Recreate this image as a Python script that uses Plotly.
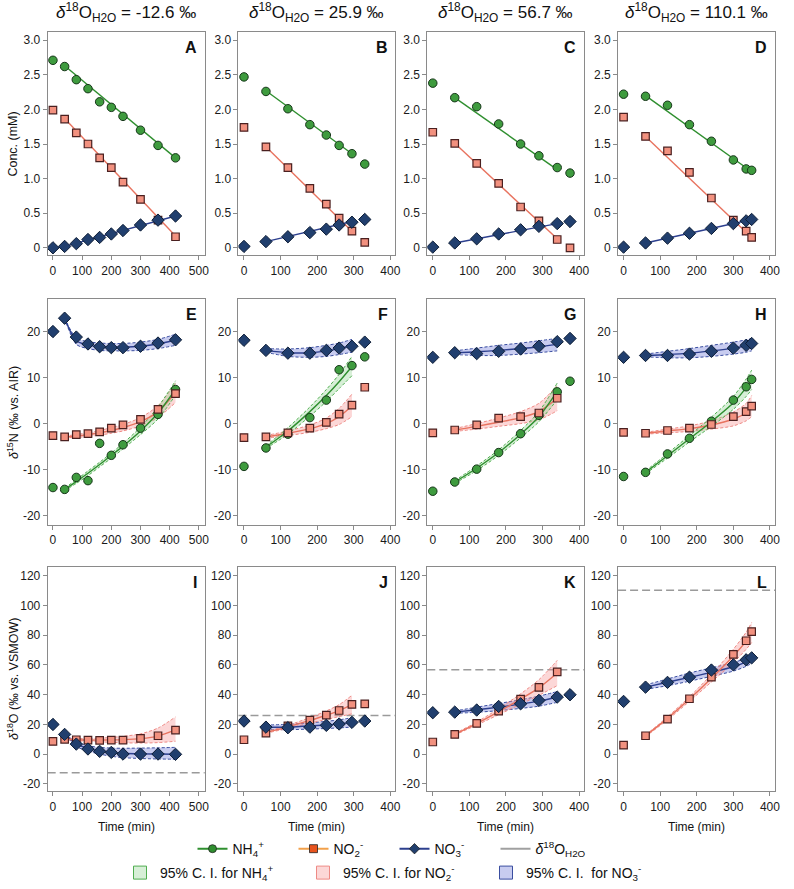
import plotly.graph_objects as go
from plotly.subplots import make_subplots

# ---------------- data ----------------
h2o_d18o = [-12.6, 25.9, 56.7, 110.1]
h2o_labels = ["-12.6", "25.9", "56.7", "110.1"]
panel_letters = ["A", "B", "C", "D", "E", "F", "G", "H", "I", "J", "K", "L"]

time_1 = [0, 40, 80, 120, 160, 200, 240, 300, 360, 420]
time_2 = [0, 60, 120, 180, 225, 260, 295, 330]
time_3 = [0, 60, 120, 180, 240, 290, 340, 375]
time_4 = [0, 60, 120, 180, 240, 300, 335, 350]
times = [time_1, time_2, time_3, time_4]
# index range (inclusive) of the samples used by the fits
fit_range = [(1, 9), (1, 6), (1, 6), (1, 7)]

# concentrations (mM)
conc_nh4 = [[2.71, 2.62, 2.43, 2.30, 2.11, 2.03, 1.90, 1.70, 1.48, 1.30],
            [2.47, 2.26, 2.01, 1.78, 1.63, 1.48, 1.36, 1.21],
            [2.38, 2.17, 2.04, 1.79, 1.50, 1.33, 1.16, 1.08],
            [2.22, 2.19, 2.06, 1.78, 1.54, 1.27, 1.14, 1.12]]
conc_no2 = [[1.99, 1.86, 1.66, 1.50, 1.30, 1.16, 0.95, 0.70, 0.40, 0.16],
            [1.74, 1.46, 1.16, 0.86, 0.63, 0.43, 0.24, 0.08],
            [1.67, 1.51, 1.22, 0.93, 0.59, 0.39, 0.12, 0.00],
            [1.89, 1.61, 1.40, 1.09, 0.72, 0.40, 0.24, 0.15]]
conc_no3 = [[0.00, 0.02, 0.06, 0.12, 0.15, 0.20, 0.25, 0.33, 0.40, 0.46],
            [0.02, 0.09, 0.16, 0.22, 0.27, 0.33, 0.37, 0.41],
            [0.01, 0.07, 0.13, 0.20, 0.26, 0.31, 0.35, 0.38],
            [0.01, 0.07, 0.14, 0.21, 0.28, 0.35, 0.39, 0.41]]
# linear fit values at first / last fitted time
conc_fit_nh4 = [[2.63, 1.30], [2.27, 1.36], [2.17, 1.13], [2.20, 1.10]]
conc_fit_no2 = [[1.87, 0.17], [1.46, 0.24], [1.51, 0.13], [1.61, 0.15]]
conc_fit_no3 = [[0.02, 0.46], [0.09, 0.38], [0.07, 0.35], [0.07, 0.41]]

# d15N (per mil vs AIR)
d15n_nh4 = [[-13.9, -14.3, -11.7, -12.4, -4.3, -6.9, -4.6, -1.0, 2.0, 7.4],
            [-9.3, -5.3, -2.3, 1.3, 5.1, 11.7, 12.6, 14.5],
            [-14.7, -12.7, -9.9, -6.3, -2.2, 1.8, 6.9, 9.2],
            [-11.5, -10.6, -6.6, -3.2, 0.5, 5.1, 8.0, 9.6]]
d15n_no2 = [[-2.6, -2.9, -2.4, -2.2, -1.8, -1.0, -0.3, 0.9, 3.1, 6.5],
            [-3.05, -2.9, -2.0, -1.0, 0.25, 2.05, 4.0, 7.9],
            [-2.0, -1.4, -0.3, 1.2, 1.5, 2.3, 5.5, None],
            [-1.9, -2.1, -1.5, -1.0, -0.2, 1.5, 2.6, 3.8]]
d15n_no3 = [[20.0, 22.9, 18.8, 17.3, 16.7, 16.5, 16.5, 16.8, 17.5, 18.2],
            [18.1, 15.9, 15.3, 15.3, 15.9, 16.4, 16.8, 17.7],
            [14.4, 15.4, 15.2, 15.7, 16.2, 16.8, 17.8, 18.5],
            [14.4, 14.8, 14.8, 15.1, 15.7, 16.4, 17.0, 17.4]]
d15n_fit_nh4 = [[-14.3, -12.6, -10.8, -8.9, -6.9, -4.9, -1.6, 2.3, 7.4],
                [-5.1, -1.6, 2.6, 6.1, 9.1, 12.4],
                [-12.7, -9.7, -6.3, -2.3, 1.5, 7.0],
                [-10.6, -7.0, -3.3, 0.4, 4.5, 7.8, 9.5]]
d15n_up_nh4 = [[-14.0, -12.2, -10.3, -8.4, -6.4, -4.3, -0.8, 3.6, 9.3],
               [-4.8, -0.9, 3.6, 7.4, 10.7, 14.6],
               [-12.4, -9.2, -5.7, -1.5, 2.6, 8.8],
               [-10.3, -6.5, -2.6, 1.4, 5.9, 9.7, 11.6]]
d15n_lo_nh4 = [[-14.6, -13.0, -11.3, -9.4, -7.5, -5.5, -2.4, 1.0, 6.2],
               [-5.4, -2.3, 1.6, 4.8, 7.6, 10.4],
               [-13.0, -10.2, -6.9, -3.1, 0.4, 5.2],
               [-10.9, -7.5, -4.0, -0.6, 3.1, 5.9, 7.4]]
d15n_fit_no2 = [[-2.9, -2.7, -2.4, -2.0, -1.5, -0.9, 0.4, 2.6, 6.8],
                [-2.9, -2.1, -1.1, 0.0, 1.5, 3.8],
                [-1.4, -0.6, 0.3, 1.3, 2.6, 5.5],
                [-2.1, -1.6, -1.1, -0.3, 1.0, 2.3, 3.5]]
d15n_up_no2 = [[-2.7, -2.4, -2.0, -1.5, -0.9, -0.2, 1.3, 3.9, 8.8],
               [-2.6, -1.6, -0.3, 1.2, 3.3, 6.4],
               [-1.1, 0.0, 1.2, 2.6, 4.4, 8.3],
               [-1.9, -1.2, -0.5, 0.6, 2.5, 4.4, 6.1]]
d15n_lo_no2 = [[-3.1, -3.0, -2.8, -2.5, -2.1, -1.6, -0.5, 1.3, 4.6],
               [-3.2, -2.6, -1.9, -1.1, -0.2, 1.5],
               [-1.7, -1.2, -0.6, 0.0, 0.8, 2.8],
               [-2.3, -2.0, -1.7, -1.2, -0.5, 0.6, 1.5]]
d15n_fit_no3 = [[22.9, 18.0, 17.1, 16.7, 16.6, 16.6, 16.8, 17.3, 18.1],
                [15.9, 15.4, 15.4, 15.8, 16.3, 16.9],
                [15.4, 15.6, 15.9, 16.3, 16.7, 17.2],
                [14.8, 15.0, 15.3, 15.8, 16.4, 16.9, 17.2]]
d15n_up_no3 = [[22.9, 18.6, 17.8, 17.5, 17.4, 17.4, 17.7, 18.3, 19.4],
               [16.3, 16.2, 16.5, 17.0, 17.5, 18.3],
               [15.8, 16.4, 17.0, 17.5, 18.0, 18.5],
               [15.1, 15.7, 16.3, 17.0, 17.7, 18.2, 18.5]]
d15n_lo_no3 = [[22.9, 17.2, 16.3, 15.9, 15.8, 15.8, 15.9, 16.3, 17.0],
               [15.5, 14.6, 14.4, 14.6, 15.0, 15.5],
               [15.0, 14.8, 14.8, 15.1, 15.4, 15.8],
               [14.5, 14.3, 14.3, 14.6, 15.1, 15.5, 15.8]]

# d18O (per mil vs VSMOW)
d18o_no2 = [[8.5, 9.9, 9.6, 9.4, 9.2, 9.4, 9.4, 10.5, 12.3, 16.1],
            [9.6, 14.1, 19.0, 22.8, 26.2, 29.3, 33.4, 33.8],
            [8.1, 13.2, 20.6, 28.9, 37.0, 44.8, 55.3, None],
            [6.0, 12.3, 23.5, 37.2, 51.7, 67.0, 76.2, 82.4]]
d18o_no3 = [[19.9, 13.2, 6.7, 3.4, 1.8, 1.1, 0.0, 0.0, 0.0, -0.2],
            [22.2, 18.1, 17.7, 18.1, 19.3, 20.2, 21.3, 22.2],
            [27.8, 28.2, 29.6, 32.0, 33.8, 36.1, 38.3, 39.9],
            [35.4, 45.0, 48.2, 51.7, 56.5, 60.0, 63.4, 64.7]]
d18o_fit_no2 = [[9.9, 9.6, 9.4, 9.4, 9.5, 9.7, 10.4, 12.1, 16.2],
                [14.5, 18.3, 22.6, 26.1, 29.2, 33.2],
                [13.3, 20.5, 28.5, 37.0, 44.5, 54.5],
                [12.3, 24.0, 37.0, 51.0, 66.0, 76.0, 81.5]]
d18o_up_no2 = [[10.2, 10.3, 10.4, 10.7, 11.2, 11.9, 13.6, 17.5, 25.0],
               [15.0, 19.3, 24.5, 29.0, 33.2, 39.5],
               [13.8, 21.5, 30.5, 40.5, 50.0, 63.0],
               [12.8, 25.0, 38.5, 53.5, 70.5, 82.0, 88.5]]
d18o_lo_no2 = [[9.6, 8.9, 8.5, 8.2, 7.9, 7.6, 7.4, 7.7, 8.6],
               [14.0, 17.3, 20.8, 23.2, 25.2, 27.0],
               [12.8, 19.5, 26.5, 33.5, 39.5, 46.0],
               [11.8, 23.0, 35.5, 48.5, 61.5, 70.5, 75.0]]
d18o_fit_no3 = [[13.2, 6.8, 3.8, 2.1, 1.1, 0.5, 0.1, 0.0, -0.1],
                [18.0, 18.2, 18.9, 19.6, 20.3, 21.3],
                [28.2, 29.8, 31.6, 33.6, 35.6, 38.4],
                [45.0, 48.3, 51.6, 55.0, 58.7, 62.0, 64.0]]
d18o_up_no3 = [[13.2, 8.5, 5.6, 4.5, 4.0, 3.9, 4.0, 4.2, 4.5],
               [19.5, 20.0, 21.0, 22.0, 23.0, 24.5],
               [29.0, 31.5, 34.0, 36.5, 39.0, 42.0],
               [46.5, 50.5, 54.5, 58.0, 61.5, 64.5, 66.5]]
d18o_lo_no3 = [[13.2, 5.2, 1.9, 0.0, -1.5, -2.4, -3.0, -3.3, -3.5],
               [16.5, 16.4, 16.8, 17.2, 17.6, 18.1],
               [27.4, 28.1, 29.2, 30.7, 32.2, 34.8],
               [43.5, 46.0, 49.0, 52.3, 55.8, 59.0, 61.0]]

# ---------------- styles ----------------
FONT = "Liberation Sans, Arial, sans-serif"
C_NH4_LINE, C_NH4_FILL, C_NH4_EDGE = "#2f8f2f", "#3e9b3e", "#17361a"
C_NO2_LINE, C_NO2_FILL, C_NO2_EDGE = "#e8735f", "#f2917f", "#4a2020"
C_NO3_LINE, C_NO3_FILL, C_NO3_EDGE = "#2c3f8e", "#213f6e", "#0d1d36"
BAND = {"nh4": ("#4fae4f", "rgba(140,210,140,0.35)"),
        "no2": ("#ee8a85", "rgba(245,140,140,0.35)"),
        "no3": ("#3a4ea0", "rgba(110,120,215,0.38)")}
MK = {"nh4": dict(symbol="circle", size=8.5, color=C_NH4_FILL, line=dict(color=C_NH4_EDGE, width=1)),
      "no2": dict(symbol="square", size=7.5, color=C_NO2_FILL, line=dict(color=C_NO2_EDGE, width=1.2)),
      "no3": dict(symbol="diamond", size=9.5, color=C_NO3_FILL, line=dict(color=C_NO3_EDGE, width=1))}
LINE = {"nh4": C_NH4_LINE, "no2": C_NO2_LINE, "no3": C_NO3_LINE}

W, H = 794, 889
col_px = [(48, 206), (240, 398), (430, 588), (622, 780)]
row_px = [(32, 256), (300, 526), (568, 793)]

fig = make_subplots(rows=3, cols=4)


def ax_name(r, c, kind):
    n = (r - 1) * 4 + c
    return f"{kind}axis" if n == 1 else f"{kind}axis{n}"


def add_band(r, c, t, up, lo, key):
    lc, fc = BAND[key]
    ln = dict(color=lc, width=1, dash="3px,2px", shape="spline", smoothing=0.8)
    fig.add_trace(go.Scatter(x=t, y=up, mode="lines", line=ln, showlegend=False, hoverinfo="skip"), row=r, col=c)
    fig.add_trace(go.Scatter(x=t, y=lo, mode="lines", line=ln, fill="tonexty", fillcolor=fc,
                             showlegend=False, hoverinfo="skip"), row=r, col=c)


def add_fit(r, c, t, y, key, spline=True):
    fig.add_trace(go.Scatter(x=t, y=y, mode="lines",
                             line=dict(color=LINE[key], width=1.4, shape="spline" if spline else "linear", smoothing=0.8),
                             showlegend=False, hoverinfo="skip"), row=r, col=c)


def add_pts(r, c, t, y, key):
    fig.add_trace(go.Scatter(x=t, y=y, mode="markers", marker=MK[key], showlegend=False), row=r, col=c)


for ci in range(4):
    c = ci + 1
    t = times[ci]
    a, b = fit_range[ci]
    ft = t[a:b + 1]
    ends = [ft[0], ft[-1]]
    # row 1: concentrations
    add_fit(1, c, ends, conc_fit_nh4[ci], "nh4", False)
    add_fit(1, c, ends, conc_fit_no2[ci], "no2", False)
    add_fit(1, c, ends, conc_fit_no3[ci], "no3", False)
    add_pts(1, c, t, conc_nh4[ci], "nh4")
    add_pts(1, c, t, conc_no2[ci], "no2")
    add_pts(1, c, t, conc_no3[ci], "no3")
    # row 2: d15N
    add_band(2, c, ft, d15n_up_no3[ci], d15n_lo_no3[ci], "no3")
    add_band(2, c, ft, d15n_up_no2[ci], d15n_lo_no2[ci], "no2")
    add_band(2, c, ft, d15n_up_nh4[ci], d15n_lo_nh4[ci], "nh4")
    add_fit(2, c, ft, d15n_fit_no3[ci], "no3")
    add_fit(2, c, ft, d15n_fit_no2[ci], "no2")
    add_fit(2, c, ft, d15n_fit_nh4[ci], "nh4")
    add_pts(2, c, t, d15n_nh4[ci], "nh4")
    add_pts(2, c, t, d15n_no2[ci], "no2")
    add_pts(2, c, t, d15n_no3[ci], "no3")
    # row 3: d18O
    add_band(3, c, ft, d18o_up_no3[ci], d18o_lo_no3[ci], "no3")
    add_band(3, c, ft, d18o_up_no2[ci], d18o_lo_no2[ci], "no2")
    add_fit(3, c, ft, d18o_fit_no3[ci], "no3")
    add_fit(3, c, ft, d18o_fit_no2[ci], "no2")
    add_pts(3, c, t, d18o_no2[ci], "no2")
    add_pts(3, c, t, d18o_no3[ci], "no3")
    fig.add_hline(y=h2o_d18o[ci], line=dict(color="#9a9a9a", width=1.5, dash="8px,4px"),
                  layer="below", row=3, col=c)

# ---------------- axes ----------------
y_ranges = [[-0.11, 3.12], [-22, 27], [-25, 126]]
y_ticks = [([0, 0.5, 1, 1.5, 2, 2.5, 3], ["0", "0.5", "1.0", "1.5", "2.0", "2.5", "3.0"]),
           ([-20, -10, 0, 10, 20], ["-20", "-10", "0", "10", "20"]),
           ([-20, 0, 20, 40, 60, 80, 100, 120], ["-20", "0", "20", "40", "60", "80", "100", "120"])]
axis_common = dict(showline=True, mirror=True, linecolor="#8a8a8a", linewidth=1, ticks="outside",
                   ticklen=4, tickcolor="#8a8a8a", showgrid=False, zeroline=False,
                   tickfont=dict(family=FONT, size=12, color="#1a1a1a"))
upd = {}
for ri in range(3):
    for ci in range(4):
        r, c = ri + 1, ci + 1
        x0, x1 = col_px[ci]
        y0, y1 = row_px[ri]
        if ci == 0:
            xr, xt = [-18, 520], [0, 100, 200, 300, 400, 500]
        else:
            xr, xt = [-15, 414], [0, 100, 200, 300, 400]
        upd[ax_name(r, c, "x")] = dict(axis_common, domain=[x0 / W, x1 / W], range=xr, tickvals=xt)
        upd[ax_name(r, c, "y")] = dict(axis_common, domain=[1 - y1 / H, 1 - y0 / H], range=y_ranges[ri],
                                       tickvals=y_ticks[ri][0], ticktext=y_ticks[ri][1])
fig.update_layout(**upd)

# ---------------- annotations ----------------
ann = []
for ci in range(4):
    x0, x1 = col_px[ci]
    ann.append(dict(x=(x0 + x1) / 2 / W, y=1 - 13 / H, xref="paper", yref="paper", showarrow=False,
                    xanchor="center", yanchor="middle",
                    text=f"<i>δ</i><sup>18</sup>O<sub>H2O</sub> = {h2o_labels[ci]} ‰",
                    font=dict(family=FONT, size=17, color="#111")))
    ann.append(dict(x=(x0 + x1) / 2 / W, y=1 - 829 / H, xref="paper", yref="paper", showarrow=False,
                    xanchor="center", yanchor="middle",
                    text="Time (min)", font=dict(family=FONT, size=12, color="#111")))
for i, L in enumerate(panel_letters):
    ri, ci = divmod(i, 4)
    x0, x1 = col_px[ci]
    y0, y1 = row_px[ri]
    ann.append(dict(x=(x1 - 6) / W, y=1 - (y0 + 5) / H, xref="paper", yref="paper", xanchor="right",
                    yanchor="top", showarrow=False, text=f"<b>{L}</b>",
                    font=dict(family=FONT, size=16, color="#111")))
ylabels = ["Conc. (mM)", "<i>δ</i><sup>15</sup>N (‰ vs. AIR)", "<i>δ</i><sup>18</sup>O (‰ vs. VSMOW)"]
for ri, txt in enumerate(ylabels):
    y0, y1 = row_px[ri]
    ann.append(dict(x=13 / W, y=1 - (y0 + y1) / 2 / H, xref="paper", yref="paper", showarrow=False,
                    xanchor="center", yanchor="middle",
                    textangle=-90, text=txt, font=dict(family=FONT, size=12.5, color="#111")))

# ---------------- legend traces ----------------
leg = [("NH<sub>4</sub><sup>+</sup>", "circle", "#2f8f2f", "#2f8f2f"),
       ("NO<sub>2</sub><sup>-</sup>", "square", "#e8541e", "#f2a04a"),
       ("NO<sub>3</sub><sup>-</sup>", "diamond", "#213f6e", "#2c3f8e")]
for name, sym, mc, lc in leg:
    fig.add_trace(go.Scatter(x=[None], y=[None], mode="lines+markers", name=name,
                             marker=dict(symbol=sym, size=8, color=mc, line=dict(color="#222", width=0.8)),
                             line=dict(color=lc, width=2), legend="legend"))
fig.add_trace(go.Scatter(x=[None], y=[None], mode="lines", name="<i>δ</i><sup>18</sup>O<sub>H2O</sub>",
                         line=dict(color="#a0a0a0", width=2), legend="legend"))
for name, key in [("95% C. I. for NH<sub>4</sub><sup>+</sup>", "nh4"),
                  ("95% C. I. for NO<sub>2</sub><sup>-</sup>", "no2"),
                  ("95% C. I.  for NO<sub>3</sub><sup>-</sup>", "no3")]:
    lc, fc = BAND[key]
    fig.add_trace(go.Scatter(x=[None], y=[None], mode="markers", name=name,
                             marker=dict(symbol="square", size=13, color=fc, line=dict(color=lc, width=1)),
                             legend="legend2"))

fig.update_layout(
    width=W, height=H, margin=dict(l=0, r=0, t=0, b=0),
    paper_bgcolor="white", plot_bgcolor="white",
    font=dict(family=FONT, size=12, color="#111"),
    annotations=ann,
    legend=dict(orientation="h", x=0.5, xanchor="center", y=1 - 851 / H, yanchor="middle",
                font=dict(family=FONT, size=14, color="#111"), bgcolor="rgba(0,0,0,0)",
                itemwidth=30, traceorder="normal", entrywidth=56),
    legend2=dict(orientation="h", x=0.5, xanchor="center", y=1 - 875 / H, yanchor="middle",
                 font=dict(family=FONT, size=14, color="#111"), bgcolor="rgba(0,0,0,0)",
                 itemwidth=30, traceorder="normal", entrywidth=138),
)

fig.write_html("out.html")
